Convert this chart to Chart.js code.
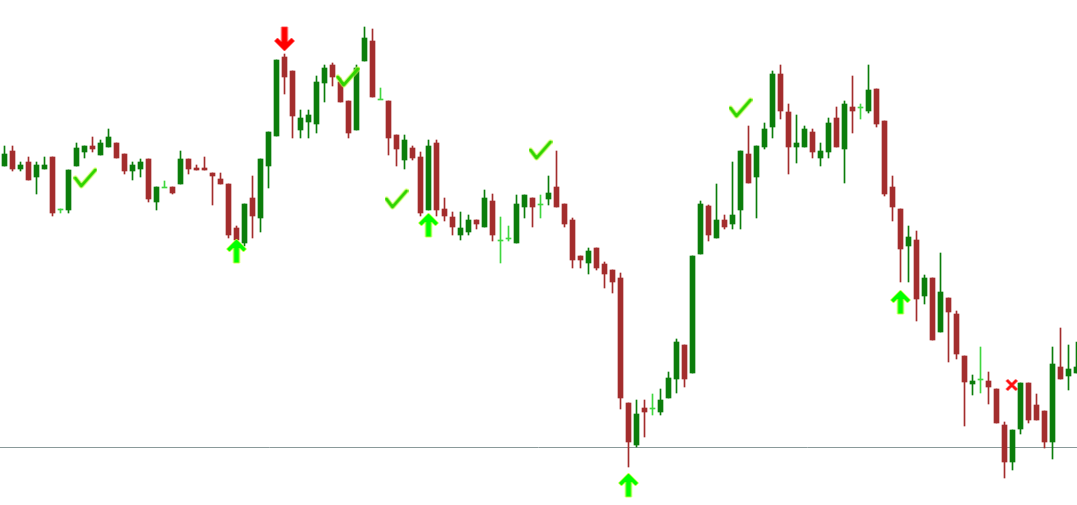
<!DOCTYPE html>
<html>
<head>
<meta charset="utf-8">
<script src="https://cdn.jsdelivr.net/npm/chart.js@4/dist/chart.umd.min.js"></script>
<style>
  html, body { margin: 0; padding: 0; background: #ffffff; }
  #wrap { width: 1077px; height: 505px; position: relative; }
</style>
</head>
<body>
<div id="wrap"><canvas id="priceChart"></canvas></div>
<script>
// candle values, one entry per bar (left to right)
const candleOpen = [
  334,349,331,338,323,331,343,291,290,334, 348,354,345,353,357,346,329,331,341,298,
  313,313,316,341,332,332,327,321,316,272, 257,302,282,334,364,443,429,370,378,376,
  417,435,418,399,370,439,459,401,399,365, 340,352,343,290,357,291,283,265,268,280,
  273,299,260,262,257,293,302,296,301,313, 296,280,244,237,252,236,230,222,97,55,
  92,92,88,102,121,155,127,246,294,262, 280,276,290,346,323,353,373,426,388,353,
  353,368,342,348,382,351,393,393,389,411, 379,313,291,254,260,204,222,168,202,186,
  144,116,121,119,111,75,38,71,117,95, 89,58,133,124,127
];
const candleHigh = [
  354,354,338,343,338,343,343,291,330,357, 354,363,360,371,357,346,338,341,341,313,
  319,313,349,341,335,343,327,327,316,274, 296,324,341,368,440,446,429,390,390,424,
  435,437,422,399,435,473,471,412,399,365, 365,354,348,360,360,302,288,288,285,280,
  310,306,283,274,305,305,302,305,324,349, 296,282,244,252,252,238,230,227,97,100,
  100,106,111,128,161,155,244,299,295,316, 285,338,349,374,354,377,429,435,396,385,
  374,371,357,382,393,399,424,396,435,411, 379,324,291,274,269,225,222,247,202,189,
  144,125,153,128,111,78,70,117,117,106, 89,153,172,155,158
];
const candleLow = [
  334,329,329,320,306,331,284,287,287,334, 342,348,345,353,342,326,320,323,298,290,
  313,306,316,326,330,330,295,316,262,260, 254,262,268,312,364,406,362,362,362,367,
  398,414,398,362,370,439,403,401,345,334, 331,340,284,290,284,279,265,260,265,271,
  273,259,237,259,257,282,273,282,295,293, 273,232,232,226,230,212,207,91,33,53,
  63,85,85,102,107,113,127,246,259,262, 271,271,271,317,282,351,362,381,326,337,
  353,342,334,342,353,317,367,381,387,373, 304,279,218,218,179,196,160,168,138,141,
  74,105,107,96,77,22,30,66,77,80, 52,41,121,110,127
];
const candleClose = [
  346,331,335,320,335,335,287,291,330,352, 354,351,357,363,342,329,335,338,301,313,
  313,307,341,331,330,330,324,316,265,260, 296,284,341,368,440,423,384,382,385,418,
  432,423,398,367,432,462,403,401,362,351, 360,342,287,354,290,284,273,272,280,276,
  302,265,260,262,296,305,293,296,307,293, 276,240,240,249,232,226,218,102,58,86,
  88,92,100,122,158,121,244,296,265,280, 273,285,349,317,354,371,426,389,353,357,
  371,348,349,377,353,396,389,393,410,376, 306,293,251,263,201,222,160,208,188,146,
  118,119,121,113,77,38,70,117,80,80, 58,136,121,131,133
];

// signal markers: bar index and price level
const buyArrowBars = [29, 53, 78, 112];
const buyArrowPrices = [249, 275, 15, 198];
const sellArrowBars = [35];
const sellArrowPrices = [461];
const checkBars = [10.1, 42.9, 49, 67, 92];
const checkPrices = [322, 423, 301, 350, 392];
const crossBars = [125.9];
const crossPrices = [115];

const levelPrice = 52.5;

const BULL = '#0b7d0b';
const BEAR = '#a32d2d';
const DOJI = '#3fd63f';

function candleColor(i) {
  if (candleClose[i] > candleOpen[i]) return BULL;
  if (candleClose[i] < candleOpen[i]) return BEAR;
  return DOJI;
}

function makeIcon(w, h, draw) {
  const c = document.createElement('canvas');
  c.width = w;
  c.height = h;
  draw(c.getContext('2d'));
  return c;
}

function arrowPath(ctx, flip) {
  const pts = [[10,0],[20,10],[17,13],[13,9],[13,24],[7,24],[7,9],[3,13],[0,10]];
  ctx.beginPath();
  pts.forEach((p, k) => {
    const x = p[0] + 1, y = flip ? 25 - p[1] : p[1] + 1;
    if (k === 0) ctx.moveTo(x, y); else ctx.lineTo(x, y);
  });
  ctx.closePath();
}

const upIcon = makeIcon(22, 26, ctx => {
  arrowPath(ctx, false);
  ctx.fillStyle = '#00ff00';
  ctx.fill();
  ctx.strokeStyle = 'rgba(200,255,60,0.9)';
  ctx.lineWidth = 1;
  ctx.stroke();
});

const downIcon = makeIcon(22, 26, ctx => {
  arrowPath(ctx, true);
  ctx.fillStyle = '#ff0000';
  ctx.fill();
  ctx.strokeStyle = 'rgba(255,60,60,0.8)';
  ctx.lineWidth = 1;
  ctx.stroke();
});

const checkIcon = makeIcon(24, 22, ctx => {
  ctx.lineCap = 'round';
  ctx.lineJoin = 'round';
  ctx.beginPath();
  ctx.moveTo(2, 11);
  ctx.lineTo(8, 19);
  ctx.lineTo(22, 3);
  ctx.strokeStyle = 'rgba(210,255,80,0.7)';
  ctx.lineWidth = 5;
  ctx.stroke();
  ctx.strokeStyle = '#2ed400';
  ctx.lineWidth = 3;
  ctx.stroke();
});

const crossIcon = makeIcon(14, 14, ctx => {
  ctx.beginPath();
  ctx.moveTo(2, 2); ctx.lineTo(12, 12);
  ctx.moveTo(12, 2); ctx.lineTo(2, 12);
  ctx.strokeStyle = '#ff1010';
  ctx.lineWidth = 3;
  ctx.stroke();
});

function markerData(bars, prices) {
  return bars.map((b, k) => ({ x: b, y: prices[k] }));
}

function markerSet(bars, prices, icon) {
  return {
    type: 'line',
    data: markerData(bars, prices),
    showLine: false,
    pointStyle: icon,
    pointRadius: 10,
    order: 0
  };
}

const idx = candleOpen.map((_, i) => i);
const colors = idx.map(candleColor);

const firstBar = -0.5625;
const lastBar = firstBar + 1077 / 8;

new Chart(document.getElementById('priceChart'), {
  type: 'bar',
  data: {
    datasets: [
      {
        // horizontal level
        type: 'line',
        data: [{ x: firstBar, y: levelPrice }, { x: lastBar, y: levelPrice }],
        borderColor: '#8a9a9a',
        borderWidth: 1,
        pointRadius: 0,
        order: 3
      },
      {
        // wicks
        data: idx.map(i => ({ x: i, y: [candleLow[i], candleHigh[i]] })),
        backgroundColor: colors,
        barThickness: 1,
        grouped: false,
        order: 2
      },
      {
        // bodies
        data: idx.map(i => ({ x: i, y: [candleOpen[i], candleClose[i]] })),
        backgroundColor: colors,
        barThickness: 5,
        minBarLength: 1,
        grouped: false,
        order: 1
      },
      markerSet(buyArrowBars, buyArrowPrices, upIcon),
      markerSet(sellArrowBars, sellArrowPrices, downIcon),
      markerSet(checkBars, checkPrices, checkIcon),
      markerSet(crossBars, crossPrices, crossIcon)
    ]
  },
  options: {
    animation: false,
    responsive: true,
    maintainAspectRatio: false,
    layout: { padding: 0, autoPadding: false },
    plugins: {
      legend: { display: false },
      tooltip: { enabled: false }
    },
    scales: {
      x: {
        type: 'linear',
        display: false,
        offset: false,
        min: firstBar,
        max: lastBar
      },
      y: {
        display: false,
        min: -5,
        max: 500
      }
    }
  }
});
</script>
</body>
</html>
